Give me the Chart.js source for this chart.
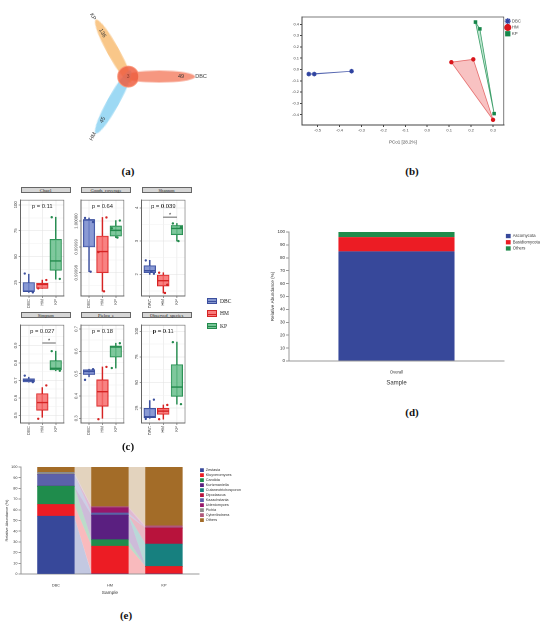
<!DOCTYPE html>
<html>
<head>
<meta charset="utf-8">
<title>Fungal community figure</title>
<script src="https://cdn.jsdelivr.net/npm/chart.js@4.4.1/dist/chart.umd.min.js"></script>
<style>
  body { margin: 0; width: 550px; height: 624px; position: relative; background: #fff; overflow: hidden; font-family: "Liberation Sans", Arial, sans-serif; }
  .box { position: absolute; }
  .cap { position: absolute; width: 40px; margin-left: -20px; text-align: center; font-family: "Liberation Serif", "DejaVu Serif", serif; font-weight: bold; font-size: 11px; line-height: 12px; color: #111; }
  .strip { position: absolute; height: 6.5px; background: #d6d6d6; border: 0.6px solid #666; box-sizing: border-box; font-family: "Liberation Serif", serif; font-size: 4.6px; line-height: 5.4px; text-align: center; color: #222; white-space: nowrap; }
  .lg { position: absolute; left: 207px; font-family: "Liberation Serif", serif; font-size: 5.5px; line-height: 8px; color: #222; }
  .lg span { display: inline-block; width: 10px; height: 6.5px; border: 0.8px solid; box-sizing: border-box; vertical-align: middle; margin-right: 3px; position: relative; }
  .lg span i { position: absolute; left: 0; right: 0; top: 2.1px; height: 1px; }
</style>
</head>
<body>

<div class="box" style="left:0;top:0;width:260px;height:160px"><canvas id="venn"></canvas></div>
<div class="cap" style="left:128px;top:165px">(a)</div>

<div class="box" style="left:283px;top:8px;width:267px;height:142px"><canvas id="pcoa"></canvas></div>
<div class="cap" style="left:412px;top:165px">(b)</div>

<div class="strip" style="left:20.7px;top:186.5px;width:50.3px">Chao1</div>
<div class="strip" style="left:81px;top:186.5px;width:50px">Goods_coverage</div>
<div class="strip" style="left:141.5px;top:186.5px;width:50.2px">Shannon</div>
<div class="strip" style="left:20.7px;top:311.5px;width:50.3px">Simpson</div>
<div class="strip" style="left:81px;top:311.5px;width:50px">Pielou_e</div>
<div class="strip" style="left:141.5px;top:311.5px;width:50.2px">Observed_species</div>
<div class="box" style="left:6px;top:193px;width:65px;height:120px"><canvas id="f1"></canvas></div>
<div class="box" style="left:67px;top:193px;width:64px;height:120px"><canvas id="f2"></canvas></div>
<div class="box" style="left:128px;top:193px;width:63.7px;height:120px"><canvas id="f3"></canvas></div>
<div class="box" style="left:6px;top:318px;width:65px;height:122px"><canvas id="f4"></canvas></div>
<div class="box" style="left:67px;top:318px;width:64px;height:122px"><canvas id="f5"></canvas></div>
<div class="box" style="left:128px;top:318px;width:63.7px;height:122px"><canvas id="f6"></canvas></div>
<div class="lg" style="top:296.5px"><span style="background:#8597cf;border-color:#3b4f9e"><i style="background:#3b4f9e"></i></span>DBC</div>
<div class="lg" style="top:309px"><span style="background:#f77b7b;border-color:#d62424"><i style="background:#d62424"></i></span>HM</div>
<div class="lg" style="top:321.5px"><span style="background:#75c495;border-color:#238a4d"><i style="background:#238a4d"></i></span>KP</div>
<div class="cap" style="left:128px;top:440px">(c)</div>

<div class="box" style="left:268px;top:225px;width:282px;height:168px"><canvas id="phylum"></canvas></div>
<div class="cap" style="left:412px;top:406px">(d)</div>

<div class="box" style="left:0;top:462px;width:290px;height:138px"><canvas id="genus"></canvas></div>
<div class="cap" style="left:126px;top:609px">(e)</div>

<script>
// ---------------- data ----------------
// (a) flower diagram: unique taxa per sample and the shared core
const vennSets = ['DBC', 'KP', 'HM'];
const vennUnique = [49, 136, 45];
const vennCore = 3;

// (b) PCoA coordinates [PCo1, PCo2]
const pcoaDBC = [[-0.54, -0.04], [-0.515, -0.04], [-0.345, -0.015]];
const pcoaHM = [[0.11, 0.065], [0.21, 0.09], [0.30, -0.445]];
const pcoaKP = [[0.22, 0.42], [0.24, 0.36], [0.305, -0.39]];

// (c) alpha diversity boxplots, per group: [lower whisker, q1, median, q3, upper whisker]
const groups = ['DBC', 'HM', 'KP'];
const chao1Stats = [[15.5, 16.5, 16.5, 25, 33], [19.3, 19.3, 23.2, 24.4, 27.4], [28.3, 36.8, 45.8, 66.7, 88]];
const chao1Points = [[33.7, 15.5], [19.3, 27.4], [88, 28.5]];
const chao1Ticks = [25, 50, 75, 100];
const goodsStats = [[0.9999804, 0.99999, 1.0000005, 1.0000005, 1.0000012], [0.9999728, 0.99998, 0.9999882, 0.9999942, 1.0000014], [0.9999936, 0.9999942, 0.9999964, 0.9999981, 1.0000002]];
const goodsPoints = [[1.0000012, 0.9999996, 0.9999804], [0.999988, 1.0000014, 0.9999728], [0.9999972, 1.0000002, 0.9999936]];
const goodsTicks = [0.99998, 0.99999, 1.0];
const shannonStats = [[2.0, 2.05, 2.11, 2.26, 2.42], [1.44, 1.65, 1.81, 1.98, 2.05], [3.0, 3.19, 3.38, 3.47, 3.53]];
const shannonPoints = [[2.42, 2.02, 2.08], [2.05, 1.69, 1.44], [3.53, 3.42, 3.0]];
const shannonTicks = [2, 3, 4];
const simpsonStats = [[0.69, 0.691, 0.70, 0.709, 0.718], [0.489, 0.529, 0.573, 0.624, 0.659], [0.755, 0.76, 0.769, 0.813, 0.867]];
const simpsonPoints = [[0.727, 0.69], [0.48, 0.671], [0.867, 0.755]];
const simpsonTicks = [0.5, 0.6, 0.7, 0.8, 0.9];
const pielouStats = [[0.486, 0.496, 0.51, 0.517, 0.52], [0.30, 0.354, 0.419, 0.472, 0.53], [0.525, 0.574, 0.619, 0.624, 0.636]];
const pielouPoints = [[0.472, 0.52], [0.296, 0.53], [0.525, 0.636]];
const pielouTicks = [0.3, 0.4, 0.5, 0.6, 0.7];
const observedStats = [[15, 15.6, 16.5, 24.7, 32.3], [14.1, 18.9, 22, 24.7, 28], [28.8, 36.4, 45.5, 67.4, 89.4]];
const observedPoints = [[14.4, 33.2], [14.1, 28], [89.4, 28.8]];
const observedTicks = [25, 50, 75, 100];
const pValues = ['p = 0.11', 'p = 0.64', 'p = 0.039', 'p = 0.027', 'p = 0.18', 'p = 0.11'];
const shannonSigBar = 3.72;
const simpsonSigBar = 0.914;

// (d) phylum level relative abundance (%)
const phylumNames = ['Ascomycota', 'Basidiomycota', 'Others'];
const phylumShares = [85, 11, 4];

// (e) genus level relative abundance (%) per sample
const sampleNames = ['DBC', 'HM', 'KP'];
const genusNames = ['Zestasia', 'Kluyveromyces', 'Candida', 'Kurtzmaniella', 'Cutaneotrichosporon',
  'Dipodascus', 'Kazachstania', 'Udeniomyces', 'Pichia', 'Cyberlindnera', 'Others'];
const dbcShares = [54, 11, 17, 0, 0, 0, 11, 0, 2, 0, 5];
const hmShares = [0, 26, 6, 23, 0, 0, 2, 5, 0, 1, 37];
const kpShares = [0, 7, 0, 0, 21, 15, 0, 0, 0, 2, 55];

// ---------------- styles ----------------
Chart.defaults.font.family = '"Liberation Sans", Arial, sans-serif';
Chart.defaults.color = '#444';
Chart.defaults.animation = false;
Chart.defaults.responsive = true;
Chart.defaults.maintainAspectRatio = false;
Chart.defaults.devicePixelRatio = 2;
Chart.defaults.plugins.tooltip.enabled = false;

const groupLine = ['#3b4f9e', '#d62424', '#238a4d'];
const groupFill = ['rgba(118,136,204,0.85)', 'rgba(247,108,108,0.85)', 'rgba(104,190,140,0.85)'];
const genusColors = ['#37489a', '#ec1c24', '#1f8c4c', '#5a1f80', '#17807f', '#b8133c',
  '#5b61aa', '#98176a', '#8c8c8c', '#b0577b', '#a36c28'];
const phylumColors = ['#37489a', '#ec1c24', '#1f8c4c'];

function rgba(hex, a) {
  const n = parseInt(hex.slice(1), 16);
  return 'rgba(' + (n >> 16) + ',' + ((n >> 8) & 255) + ',' + (n & 255) + ',' + a + ')';
}

// ---------------- (a) flower diagram ----------------
const petalAngle = [0, 119, -119];        // petal direction, degrees
const petalColors = ['rgba(244,122,92,0.78)', 'rgba(247,180,98,0.75)', 'rgba(124,204,240,0.75)'];

function petalImage(color) {
  const c = document.createElement('canvas');
  c.width = 72; c.height = 12;
  const g = c.getContext('2d');
  g.fillStyle = color;
  g.beginPath();
  g.ellipse(36, 6, 36, 6, 0, 0, Math.PI * 2);
  g.fill();
  return c;
}
const unit = a => [Math.cos(a * Math.PI / 180), Math.sin(a * Math.PI / 180)];

const vennText = {
  id: 'vennText',
  afterDatasetsDraw(chart) {
    const c = chart.ctx, sx = chart.scales.x, sy = chart.scales.y;
    c.save();
    c.fillStyle = '#333';
    c.textAlign = 'center';
    c.textBaseline = 'middle';
    vennSets.forEach((name, i) => {
      const [ux, uy] = unit(petalAngle[i]);
      let rot = -petalAngle[i];
      if (rot > 90) rot -= 180;
      if (rot < -90) rot += 180;
      [[vennUnique[i], 58], [name, 80]].forEach(([txt, d]) => {
        c.save();
        c.translate(sx.getPixelForValue(ux * d), sy.getPixelForValue(uy * d));
        c.rotate(rot * Math.PI / 180);
        c.font = '5.5px "Liberation Sans"';
        c.fillText(String(txt), 0, 0);
        c.restore();
      });
    });
    c.font = '5px "Liberation Sans"';
    c.fillStyle = '#8a3a2a';
    c.fillText(String(vennCore), sx.getPixelForValue(0), sy.getPixelForValue(0));
    c.restore();
  }
};

new Chart(document.getElementById('venn'), {
  type: 'scatter',
  data: {
    datasets: [
      {
        data: vennSets.map((s, i) => ({ x: unit(petalAngle[i])[0] * 34, y: unit(petalAngle[i])[1] * 34 })),
        pointStyle: vennSets.map((s, i) => petalImage(petalColors[i])),
        pointRotation: petalAngle.map(a => -a),
        pointRadius: 6,
        pointBorderWidth: 0,
        order: 2
      },
      {
        data: [{ x: 0, y: 0 }],
        pointRadius: 10.5,
        pointBackgroundColor: 'rgba(238,95,66,0.85)',
        pointBorderColor: 'rgba(250,150,120,0.9)',
        pointBorderWidth: 1,
        order: 1
      }
    ]
  },
  options: {
    plugins: { legend: { display: false } },
    scales: {
      x: { display: false, min: -128, max: 132 },
      y: { display: false, min: -84, max: 76 }
    }
  },
  plugins: [vennText]
});

// ---------------- (b) PCoA ----------------
const toXY = pts => pts.map(p => ({ x: p[0], y: p[1] }));
const closed = pts => toXY(pts.concat([pts[0]]));
const frame = {
  id: 'frame',
  afterDraw(chart) {
    const a = chart.chartArea, c = chart.ctx;
    c.save();
    c.strokeStyle = '#444';
    c.lineWidth = 0.7;
    c.strokeRect(a.left, a.top, a.right - a.left, a.bottom - a.top);
    c.restore();
  }
};

new Chart(document.getElementById('pcoa'), {
  type: 'scatter',
  data: {
    datasets: [
      { type: 'line', data: closed(pcoaDBC), borderColor: '#5566b0', borderWidth: 0.8, backgroundColor: 'rgba(110,130,210,0.25)', fill: 'shape', pointRadius: 0, order: 5 },
      { type: 'line', data: closed(pcoaHM), borderColor: 'rgba(226,96,96,0.9)', borderWidth: 0.8, backgroundColor: 'rgba(240,120,120,0.45)', fill: 'shape', pointRadius: 0, order: 5 },
      { type: 'line', data: closed(pcoaKP), borderColor: 'rgba(44,150,92,0.9)', borderWidth: 0.8, backgroundColor: 'rgba(110,200,150,0.45)', fill: 'shape', pointRadius: 0, order: 5 },
      { label: 'DBC', data: toXY(pcoaDBC), pointStyle: 'star', pointRadius: 2.3, borderColor: '#2f43a0', backgroundColor: '#2f43a0', pointBorderWidth: 1.3, order: 1 },
      { label: 'HM', data: toXY(pcoaHM), pointStyle: 'circle', pointRadius: 1.7, borderColor: '#d9161c', backgroundColor: '#d9161c', order: 1 },
      { label: 'KP', data: toXY(pcoaKP), pointStyle: 'rect', pointRadius: 1.8, borderColor: '#17864a', backgroundColor: '#17864a', order: 1 }
    ]
  },
  options: {
    layout: { padding: { top: 9, right: 19 } },
    plugins: {
      legend: {
        position: 'right', align: 'start',
        labels: { usePointStyle: true, boxWidth: 4, font: { size: 4.3 }, padding: 2, color: '#444', filter: item => !!item.text }
      }
    },
    scales: {
      x: {
        min: -0.571, max: 0.349,
        ticks: { stepSize: 0.1, includeBounds: false, font: { size: 4 }, padding: 1, callback: v => v.toFixed(1) },
        grid: { drawOnChartArea: false, tickLength: 2, tickColor: '#444' },
        border: { color: '#444' },
        title: { display: true, text: 'PCo1 [28.2%]', font: { size: 4.5 }, padding: { top: 4, bottom: 5 } },
        afterFit: s => { s.height = 25; }
      },
      y: {
        min: -0.491, max: 0.465,
        ticks: { stepSize: 0.1, includeBounds: false, font: { size: 4 }, padding: 1, callback: v => v.toFixed(1) },
        grid: { drawOnChartArea: false, tickLength: 2, tickColor: '#444' },
        border: { color: '#444' },
        afterFit: s => { s.width = 19; }
      }
    }
  },
  plugins: [frame]
});

// ---------------- (c) alpha diversity facets ----------------
const jitter = [-0.3, 0.3, 0.12];

function drawFacet(id, stats, points, ticks, range, fmt, pText, sigBar, yWidth) {
  const step = ticks[1] - ticks[0];
  const allTicks = [];
  [ticks[0] - step / 2].concat(ticks).forEach((v, k) => {
    if (k > 0) allTicks.push({ value: v });
    const m = k === 0 ? v : v + step / 2;
    if (m > range[0] && m < range[1]) allTicks.push({ value: m, minor: true });
  });

  const facetText = {
    id: 'facetText',
    afterDraw(chart) {
      const c = chart.ctx, a = chart.chartArea, sy = chart.scales.y, sx = chart.scales.x;
      c.save();
      c.strokeStyle = '#666';
      c.lineWidth = 0.6;
      c.strokeRect(a.left, a.top, a.right - a.left, a.bottom - a.top);
      c.fillStyle = '#555';
      c.font = '4.3px "Liberation Sans"';
      c.textAlign = 'center';
      c.textBaseline = 'bottom';
      ticks.forEach(v => {
        c.save();
        c.translate(a.left - 2.6, sy.getPixelForValue(v));
        c.rotate(-Math.PI / 2);
        c.fillText(fmt(v), 0, 0);
        c.restore();
      });
      c.fillStyle = '#222';
      c.font = '5.8px "Liberation Sans"';
      c.textBaseline = 'middle';
      c.fillText(pText, (a.left + a.right) / 2, a.top + 6);
      if (sigBar) {
        c.font = '5.5px "Liberation Sans"';
        c.textBaseline = 'bottom';
        c.fillText('*', sx.getPixelForValue(1.5), sy.getPixelForValue(sigBar) + 0.8);
      }
      c.restore();
    }
  };

  const dots = [], dotColors = [];
  points.forEach((vals, g) => vals.forEach((v, k) => {
    dots.push({ x: g + jitter[k], y: v });
    dotColors.push(groupLine[g]);
  }));

  const datasets = [
    { type: 'bar', data: stats.map((s, i) => ({ x: i, y: [s[0], s[4]] })), backgroundColor: groupLine, barThickness: 0.8, grouped: false, order: 4 },
    { type: 'bar', data: stats.map((s, i) => ({ x: i, y: [s[1], s[3]] })), backgroundColor: groupFill, borderColor: groupLine, borderWidth: 0.8, borderSkipped: false, barThickness: 11.5, grouped: false, order: 3 },
    { type: 'scatter', data: stats.map((s, i) => ({ x: i, y: s[2] })), pointStyle: 'line', pointRadius: 5.75, borderColor: groupLine, pointBorderColor: groupLine, pointBorderWidth: 1.4, order: 2 },
    { type: 'scatter', data: dots, pointRadius: 1.2, pointBackgroundColor: dotColors, pointBorderWidth: 0, order: 1 }
  ];
  if (sigBar) {
    datasets.push({ type: 'line', data: [{ x: 1, y: sigBar }, { x: 2, y: sigBar }], borderColor: '#333', borderWidth: 0.8, pointRadius: 0, order: 0 });
  }

  new Chart(document.getElementById(id), {
    type: 'bar',
    data: { datasets },
    options: {
      plugins: { legend: { display: false } },
      scales: {
        x: {
          type: 'linear', min: -0.6, max: 2.6, offset: false,
          afterBuildTicks: s => { s.ticks = groups.map((g, i) => ({ value: i })); },
          ticks: { callback: v => groups[v], minRotation: 90, maxRotation: 90, font: { size: 4.3 }, padding: 1, color: '#555' },
          grid: { offset: false, color: '#e4e4e4', lineWidth: 0.6, tickLength: 2, tickColor: '#555' },
          border: { color: '#666' },
          afterFit: s => { s.height = 17; }
        },
        y: {
          type: 'linear', min: range[0], max: range[1],
          afterBuildTicks: s => { s.ticks = allTicks.map(t => Object.assign({}, t)); },
          ticks: { display: false },
          grid: {
            color: ctx => (ctx.tick && ctx.tick.minor ? '#f2f2f2' : '#e2e2e2'),
            lineWidth: 0.6, tickLength: 2,
            tickColor: ctx => (ctx.tick && ctx.tick.minor ? 'rgba(0,0,0,0)' : '#555')
          },
          border: { color: '#666' },
          afterFit: s => { s.width = yWidth; }
        }
      }
    },
    plugins: [facetText]
  });
}

const plain = v => String(v);
const oneDec = v => v.toFixed(1);
drawFacet('f1', chao1Stats, chao1Points, chao1Ticks, [12, 104.5], plain, pValues[0], null, 14.7);
drawFacet('f2', goodsStats, goodsPoints, goodsTicks, [0.999971, 1.0000081], v => v.toFixed(5), pValues[1], null, 14);
drawFacet('f3', shannonStats, shannonPoints, shannonTicks, [1.35, 4.23], plain, pValues[2], shannonSigBar, 13.5);
drawFacet('f4', simpsonStats, simpsonPoints, simpsonTicks, [0.456, 1.016], oneDec, pValues[3], simpsonSigBar, 14.7);
drawFacet('f5', pielouStats, pielouPoints, pielouTicks, [0.279, 0.717], oneDec, pValues[4], null, 14);
drawFacet('f6', observedStats, observedPoints, observedTicks, [10.4, 106], plain, pValues[5], null, 13.5);

// ---------------- (d) phylum composition ----------------
new Chart(document.getElementById('phylum'), {
  type: 'bar',
  data: {
    labels: ['Overall'],
    datasets: phylumNames.map((name, i) => ({
      label: name, data: [phylumShares[i]], backgroundColor: phylumColors[i],
      barPercentage: 0.54, categoryPercentage: 1
    }))
  },
  options: {
    layout: { padding: { top: 7, right: 0 } },
    plugins: {
      legend: {
        position: 'right', align: 'start',
        labels: { boxWidth: 4.8, boxHeight: 4.3, font: { size: 4.2 }, padding: 1.9, color: '#333' }
      }
    },
    scales: {
      x: {
        stacked: true,
        ticks: { font: { size: 4.2 }, padding: 1, color: '#333' },
        grid: { display: false },
        border: { color: '#999' },
        title: { display: true, text: 'Sample', font: { size: 6 }, color: '#333', padding: { top: 0, bottom: 6.4 } },
        afterFit: s => { s.height = 32; }
      },
      y: {
        stacked: true, min: 0, max: 100,
        ticks: { stepSize: 10, font: { size: 4.5 }, padding: 1, color: '#333' },
        grid: { drawOnChartArea: false, tickLength: 3, tickColor: '#999' },
        border: { color: '#999' },
        title: { display: true, text: 'Relative Abundance (%)', font: { size: 4.6 }, color: '#333', padding: 2 },
        afterFit: s => { s.width = 21; }
      }
    }
  }
});

// ---------------- (e) genus composition with flow bands ----------------
const flowBands = {
  id: 'flowBands',
  beforeDatasetsDraw(chart) {
    const c = chart.ctx;
    c.save();
    chart.data.datasets.forEach((ds, i) => {
      const bars = chart.getDatasetMeta(i).data;
      c.fillStyle = rgba(genusColors[i], 0.3);
      for (let j = 0; j < bars.length - 1; j++) {
        const a = bars[j], b = bars[j + 1];
        const ax = a.x + a.width / 2, bx = b.x - b.width / 2;
        c.beginPath();
        c.moveTo(ax, a.y);
        c.lineTo(bx, b.y);
        c.lineTo(bx, b.base);
        c.lineTo(ax, a.base);
        c.closePath();
        c.fill();
      }
    });
    c.restore();
  }
};

new Chart(document.getElementById('genus'), {
  type: 'bar',
  data: {
    datasets: genusNames.map((name, i) => ({
      label: name,
      data: [dbcShares[i], hmShares[i], kpShares[i]].map((v, j) => ({ x: j, y: v })),
      backgroundColor: genusColors[i],
      barThickness: 36.7
    }))
  },
  options: {
    layout: { padding: { top: 5, right: 39 } },
    plugins: {
      legend: {
        position: 'right', align: 'start',
        labels: { boxWidth: 3.8, boxHeight: 3.8, font: { size: 3.8 }, padding: 1.2, color: '#333' }
      }
    },
    scales: {
      x: {
        type: 'linear', stacked: true, min: -0.646, max: 2.646, offset: false,
        afterBuildTicks: s => { s.ticks = sampleNames.map((n, j) => ({ value: j })); },
        ticks: { font: { size: 3.8 }, padding: 1, color: '#333', callback: v => sampleNames[v] },
        grid: { display: false, offset: false },
        border: { color: '#999' },
        title: { display: true, text: 'Sample', font: { size: 4.8 }, color: '#333', padding: { top: 0, bottom: 4.5 } },
        afterFit: s => { s.height = 26; }
      },
      y: {
        stacked: true, min: 0, max: 100,
        ticks: { stepSize: 10, font: { size: 3.8 }, padding: 1, color: '#333' },
        grid: { drawOnChartArea: false, tickLength: 2.5, tickColor: '#999' },
        border: { color: '#999' },
        title: { display: true, text: 'Relative Abundance (%)', font: { size: 3.9 }, color: '#333', padding: 4.5 },
        afterFit: s => { s.width = 21; }
      }
    }
  },
  plugins: [flowBands]
});
</script>
</body>
</html>
